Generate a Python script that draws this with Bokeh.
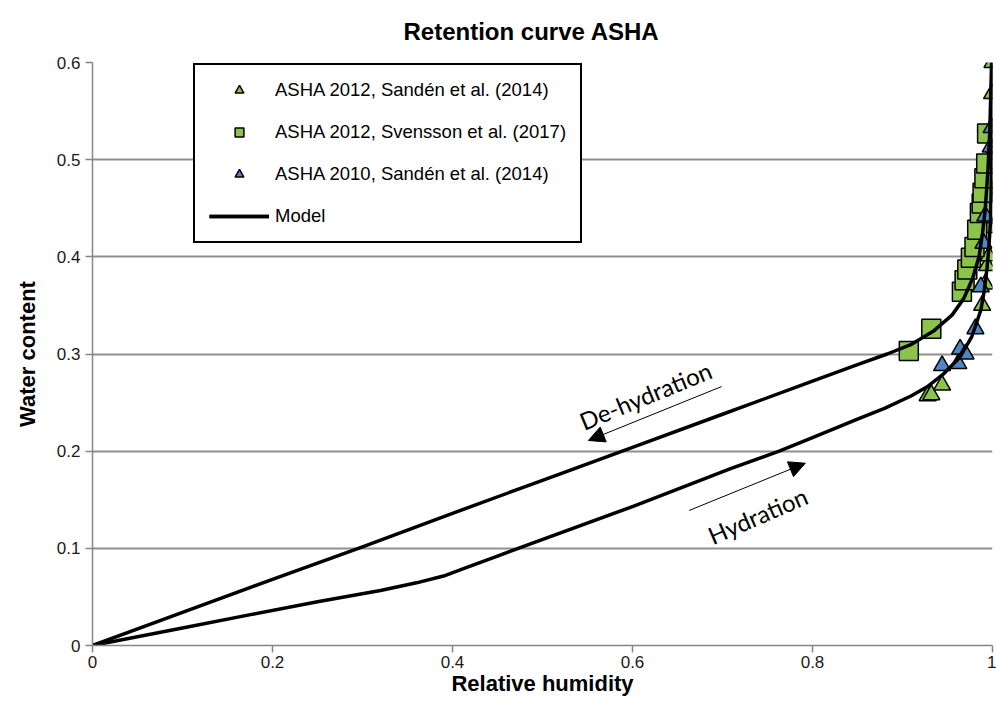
from bokeh.plotting import figure
from bokeh.models import (Legend, LegendItem, FixedTicker, CustomJSTickFormatter,
                          Range1d, Arrow, NormalHead, Label)
from bokeh.embed import file_html
from bokeh.resources import INLINE

# --- measured data -------------------------------------------------------
# ASHA 2012, Sandén et al. (2014)
asha12_sanden_rh = [0.928, 0.932, 0.944, 0.9885, 0.992, 0.994, 0.996, 0.997, 0.998, 0.999, 0.9995, 1.0]
asha12_sanden_wc = [0.257, 0.258, 0.268, 0.350, 0.372, 0.391, 0.401, 0.430, 0.470, 0.505, 0.568, 0.600]

# ASHA 2012, Svensson et al. (2017)
asha12_svensson_rh = [0.907, 0.932, 0.966, 0.969, 0.972, 0.976, 0.980, 0.983, 0.986, 0.988, 0.989, 0.991, 0.993, 0.994]
asha12_svensson_wc = [0.303, 0.326, 0.364, 0.376, 0.387, 0.399, 0.410, 0.428, 0.445, 0.455, 0.466, 0.481, 0.496, 0.527]

# ASHA 2010, Sandén et al. (2014)
asha10_sanden_rh = [0.944, 0.962, 0.964, 0.970, 0.981, 0.987, 0.990, 0.992, 0.998, 0.999]
asha10_sanden_wc = [0.288, 0.290, 0.305, 0.300, 0.326, 0.369, 0.414, 0.442, 0.513, 0.533]

# --- model curves --------------------------------------------------------
dehydration_rh = [0.0, 0.1, 0.2, 0.3, 0.4, 0.5, 0.6, 0.7, 0.8, 0.85, 0.883, 0.91, 0.935,
                  0.955, 0.968, 0.978, 0.985, 0.989, 0.992, 0.995, 0.997, 0.999]
dehydration_wc = [0.0, 0.034, 0.068, 0.1015, 0.136, 0.170, 0.204, 0.238, 0.272, 0.289, 0.300, 0.310, 0.324,
                  0.340, 0.357, 0.378, 0.400, 0.425, 0.450, 0.490, 0.530, 0.600]

hydration_rh = [0.0, 0.1, 0.177, 0.25, 0.32, 0.36, 0.39, 0.416, 0.45, 0.476, 0.6, 0.709, 0.763, 0.8,
                0.85, 0.88, 0.91, 0.927, 0.945, 0.964, 0.977, 0.987, 0.991, 0.994, 0.996, 0.998, 0.999, 1.0]
hydration_wc = [0.0, 0.018, 0.032, 0.045, 0.0566, 0.0645, 0.0715, 0.0805, 0.092, 0.101, 0.143, 0.182, 0.200, 0.214,
                0.233, 0.244, 0.257, 0.266, 0.279, 0.297, 0.318, 0.345, 0.366, 0.389, 0.410, 0.440, 0.500, 0.600]

# --- axes ----------------------------------------------------------------
x_ticks = [0, 0.2, 0.4, 0.6, 0.8, 1]
y_ticks = [0, 0.1, 0.2, 0.3, 0.4, 0.5, 0.6]

# annotation arrows: (rh_start, wc_start, rh_end, wc_end)
dehydration_arrow = (0.699, 0.2665, 0.551, 0.211)
hydration_arrow = (0.663, 0.139, 0.792, 0.1876)

GREEN = "#8cc34b"
BLUE = "#4f86c6"
AXIS_GREY = "#868686"
FONT = "Liberation Sans"

p = figure(width=996, height=720, output_backend="svg", toolbar_location=None,
           x_range=Range1d(0, 1), y_range=Range1d(0, 0.6),
           min_border_left=92, min_border_right=4, min_border_top=62, min_border_bottom=75)

p.title.text = "Retention curve ASHA"
p.title.align = "left"
p.title.offset = 311
p.title.vertical_align = "top"
p.title.standoff = 32
p.title.text_font = FONT
p.title.text_font_size = "24px"
p.title.text_font_style = "bold"
p.title.text_color = "black"

p.outline_line_color = None
p.background_fill_color = "white"
p.border_fill_color = "white"

p.xgrid.grid_line_color = None
p.ygrid.grid_line_color = "#8f8f8f"
p.ygrid.grid_line_width = 2

p.xaxis.ticker = FixedTicker(ticks=x_ticks)
p.yaxis.ticker = FixedTicker(ticks=y_ticks)
p.xaxis.formatter = CustomJSTickFormatter(code="return tick === 0 || tick === 1 ? tick.toFixed(0) : tick.toFixed(1);")
p.yaxis.formatter = CustomJSTickFormatter(code="return tick === 0 ? '0' : tick.toFixed(1);")

for ax in (p.xaxis[0], p.yaxis[0]):
    ax.axis_line_color = AXIS_GREY
    ax.axis_line_width = 1.5
    ax.major_tick_line_color = AXIS_GREY
    ax.major_tick_line_width = 1.5
    ax.major_tick_out = 7
    ax.major_tick_in = 0
    ax.minor_tick_line_color = None
    ax.major_label_text_font = FONT
    ax.major_label_text_font_size = "17px"
    ax.major_label_text_color = "#1a1a1a"
    ax.axis_label_text_font = FONT
    ax.axis_label_text_font_size = "22px"
    ax.axis_label_text_font_style = "bold"
    ax.axis_label_text_color = "black"

p.xaxis.axis_label = "Relative humidity"
p.yaxis.axis_label = "Water content"
p.xaxis.major_label_standoff = 3
p.xaxis.axis_label_standoff = 0
p.yaxis.major_label_standoff = 5
p.yaxis.axis_label_standoff = 14

# measured points
r_tri12 = p.scatter(asha12_sanden_rh, asha12_sanden_wc, marker="triangle", size=17,
                    fill_color=GREEN, line_color="black", line_width=1.5)
r_sq12 = p.scatter(asha12_svensson_rh, asha12_svensson_wc, marker="square", size=19,
                   fill_color=GREEN, line_color="black", line_width=1.5)
r_tri10 = p.scatter(asha10_sanden_rh, asha10_sanden_wc, marker="triangle", size=17,
                    fill_color=BLUE, line_color="black", line_width=1.5)

# model curves on top of the points
r_dehyd = p.line(dehydration_rh, dehydration_wc, line_color="black", line_width=3.5, line_join="round")
r_hyd = p.line(hydration_rh, hydration_wc, line_color="black", line_width=3.5, line_join="round")

# direction arrows and labels
for x0, y0, x1, y1 in (dehydration_arrow, hydration_arrow):
    p.add_layout(Arrow(x_start=x0, y_start=y0, x_end=x1, y_end=y1,
                       line_color="black", line_width=1,
                       end=NormalHead(size=16, fill_color="black", line_color="black")))

p.add_layout(Label(x=0.6144, y=0.2573, text="De-hydration", angle=0.39,
                   text_font="Lato", text_font_size="24px", text_color="black",
                   text_align="center", text_baseline="middle"))
p.add_layout(Label(x=0.739, y=0.1338, text="Hydration", angle=0.41,
                   text_font="Lato", text_font_size="24px", text_color="black",
                   text_align="center", text_baseline="middle"))

legend = Legend(items=[
    LegendItem(label="ASHA 2012, Sandén et al. (2014)", renderers=[r_tri12]),
    LegendItem(label="ASHA 2012, Svensson et al. (2017)", renderers=[r_sq12]),
    LegendItem(label="ASHA 2010, Sandén et al. (2014)", renderers=[r_tri10]),
    LegendItem(label="Model", renderers=[r_dehyd, r_hyd]),
], location=(101, 402))
legend.label_text_font = FONT
legend.label_text_font_size = "18.5px"
legend.label_text_color = "black"
legend.glyph_width = 60
legend.glyph_height = 22
legend.label_height = 22
legend.label_standoff = 6
legend.spacing = 20
legend.padding = 14
legend.margin = 0
legend.border_line_color = "black"
legend.border_line_alpha = 1
legend.border_line_width = 2
legend.background_fill_color = "white"
legend.background_fill_alpha = 1
p.add_layout(legend, "center")

open("out.html", "w").write(file_html(p, INLINE))
